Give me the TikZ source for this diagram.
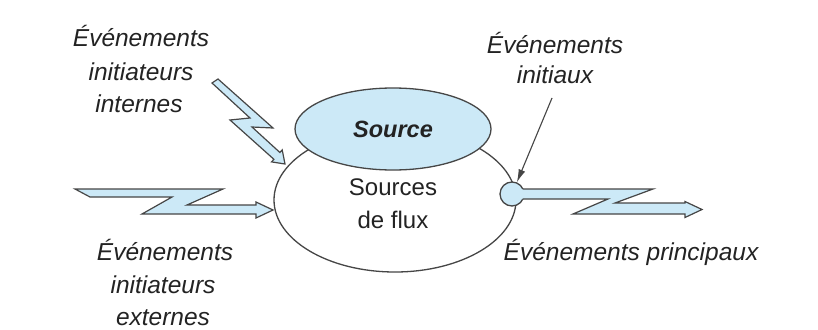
\documentclass[tikz,border=0pt]{standalone}
\usepackage{fontspec}
\setmainfont{Liberation Sans}
\usetikzlibrary{arrows.meta,shapes.geometric}
\definecolor{lb}{RGB}{204,233,247}
\definecolor{ln}{RGB}{70,70,70}
\definecolor{tx}{RGB}{35,35,35}
\begin{document}
\begin{tikzpicture}[x=1pt,y=-1pt,
  lbl/.style={font=\fontsize{24.5}{29}\selectfont\itshape, text=tx, inner sep=0pt, anchor=base},
  plain/.style={font=\fontsize{24}{29}\selectfont, text=tx, inner sep=0pt, anchor=base},
  bolt/.style={fill=lb, draw=ln, line width=1.2pt, line join=miter},
  boltfill/.style={fill=lb, draw=none},
  outline/.style={draw=ln, line width=1.3pt}]
\useasboundingbox (0,0) rectangle (818,329);
\fill[white] (0,0) rectangle (818,329);

% big ellipse (sources de flux)
\node[ellipse, outline, fill=white, minimum width=242pt, minimum height=144pt, inner sep=0pt] (flux) at (395,200) {};
% source ellipse
\node[ellipse, outline, fill=lb, minimum width=196pt, minimum height=82pt, inner sep=0pt,
      font=\fontsize{23.5}{28}\selectfont\bfseries\itshape, text=tx] (src) at (393,129) {Source};

\node[plain] (sf1) at (393,195) {Sources};
\node[plain] (sf2) at (393,228) {de flux};

% internal initiating events bolt (diagonal)
\path[bolt] (212,83) -- (218,79) -- (273,128) -- (252,127) -- (279.9,152.5) -- (282.2,149.9)
  -- (285,164) -- (271.6,161.9) -- (273.9,159.3) -- (230,120) -- (250,118) -- cycle;

% external initiating events bolt (horizontal)
\path[bolt] (75,189) -- (223,189) -- (187,205) -- (256,205) -- (256,202) -- (273,210)
  -- (256,218) -- (256,214) -- (142,214) -- (172,197) -- (90,197) -- cycle;

% initial event dot
\node[circle, outline, fill=lb, minimum size=24pt, inner sep=0pt] (dot) at (512,194) {};

% main events bolt (starting from the dot)
\path[boltfill] (512,189) -- (653,189) -- (615,203) -- (685,203) -- (685,201.5) -- (702,209.5)
  -- (685,217.5) -- (685,214) -- (573,214) -- (608,199) -- (512,199) -- cycle;
\draw[ln, line width=1.2pt, line join=miter] (522.5,189) -- (653,189) -- (615,203) -- (685,203) -- (685,201.5) -- (702,209.5)
  -- (685,217.5) -- (685,214) -- (573,214) -- (608,199) -- (522.5,199);

% arrow to the dot
\coordinate (arrstart) at (552,98);
\draw[ln, line width=1.1pt, -{Latex[length=13pt,width=7pt]}] (arrstart) -- (dot);

% labels
\node[lbl] (li1) at (141,47) {Événements};
\node[lbl] (li2) at (141,80) {initiateurs};
\node[lbl] (li3) at (139,112) {internes};

\node[lbl] (ri1) at (555,53) {Événements};
\node[lbl] (ri2) at (555,83) {initiaux};

\node[lbl] (le1) at (165,260) {Événements};
\node[lbl] (le2) at (163,293) {initiateurs};
\node[lbl] (le3) at (163,325) {externes};

\node[lbl] (rp) at (631,260) {Événements principaux};
\end{tikzpicture}
\end{document}
